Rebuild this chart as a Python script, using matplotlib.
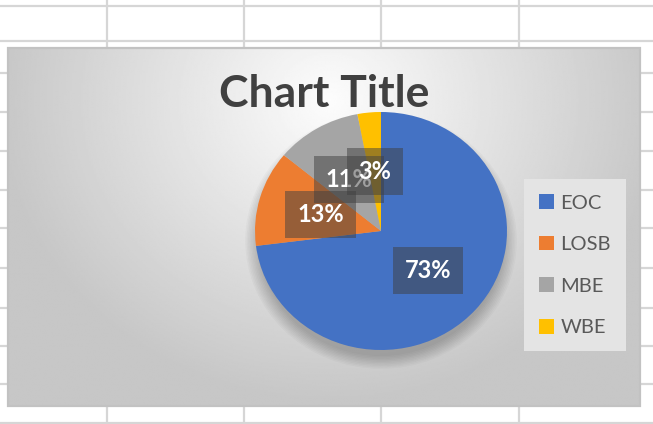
import numpy as np
import matplotlib.pyplot as plt
from matplotlib.patches import Rectangle, Ellipse

# ── data ──
categories = ["EOC", "LOSB", "MBE", "WBE"]
shares = [73, 13, 11, 3]
colors = ["#4472C4", "#ED7D31", "#A5A5A5", "#FFC000"]
title = "Chart Title"

W, H = 653, 424
FONT = "Lato"

fig = plt.figure(figsize=(W / 100, H / 100), dpi=100)

# ── spreadsheet backdrop (pixel coordinates) ──
bg = fig.add_axes([0, 0, 1, 1])
bg.set_xlim(0, W)
bg.set_ylim(H, 0)
bg.axis("off")
for y in [6, 41, 73, 112, 151, 190, 228, 268, 308, 346, 384, 423]:
    bg.axhline(y, color="#d6d6d6", lw=1.6, zorder=1)
for x in [107, 244, 381, 519]:
    bg.axvline(x, color="#d6d6d6", lw=1.6, zorder=1)

# chart area with radial gradient
x0, x1, y0, y1 = 8, 640, 48, 406
gx, gy = np.meshgrid(np.linspace(x0, x1, 400), np.linspace(y0, y1, 240))
d = np.sqrt(((gx - 330) / 330) ** 2 + ((gy - 100) / 300) ** 2)
shade = np.clip(0.99 - 0.21 * d, 0.78, 1)
bg.imshow(shade, cmap="gray", vmin=0, vmax=1, extent=(x0, x1, y1, y0),
          zorder=2, aspect="auto", interpolation="bilinear")
bg.add_patch(Rectangle((x0, y0), x1 - x0, y1 - y0, fill=False,
                       ec="#c2c2c2", lw=1.6, zorder=3))

bg.text(324, 94, title, ha="center", va="center", fontsize=32,
        fontweight="bold", color="#404040", family=FONT, zorder=4)

# ── pie (slightly elliptical like the screenshot) ──
cx, cy, rx, ry = 381, 231, 126, 119
ax = fig.add_axes([(cx - rx) / W, (H - cy - ry) / H, 2 * rx / W, 2 * ry / H])
# soft drop shadow under the pie
for i in range(10):
    s = 0.97 + 0.012 * i
    ax.add_patch(Ellipse((0, -0.08), 2 * s, 2 * s, color="black",
                         alpha=0.022, lw=0, zorder=0, clip_on=False))
wedges, _, autotexts = ax.pie(
    shares, colors=colors, startangle=90, counterclock=False,
    autopct="%1.0f%%", pctdistance=0.5,
    textprops=dict(color="white", fontsize=17, fontweight="bold", family=FONT),
    wedgeprops=dict(linewidth=0),
)
for t in autotexts:
    t.set_bbox(dict(boxstyle="square,pad=0.5", fc=(0.25, 0.25, 0.25, 0.5), ec="none"))
ax.set_aspect("auto")
ax.set_xlim(-1, 1)
ax.set_ylim(-1, 1)
ax.axis("off")

# ── legend ──
leg = fig.legend(wedges, categories, loc="upper left",
                 bbox_to_anchor=(524 / W, 1 - 179 / H), borderaxespad=0,
                 frameon=True, fancybox=False, facecolor="#e4e4e4",
                 edgecolor="none", framealpha=1,
                 prop=dict(family=FONT, size=14.5), labelcolor="#595959",
                 handlelength=0.75, handleheight=0.75, handletextpad=0.3,
                 labelspacing=1.2, borderpad=0.75)

fig.savefig("out.png", dpi=100)
